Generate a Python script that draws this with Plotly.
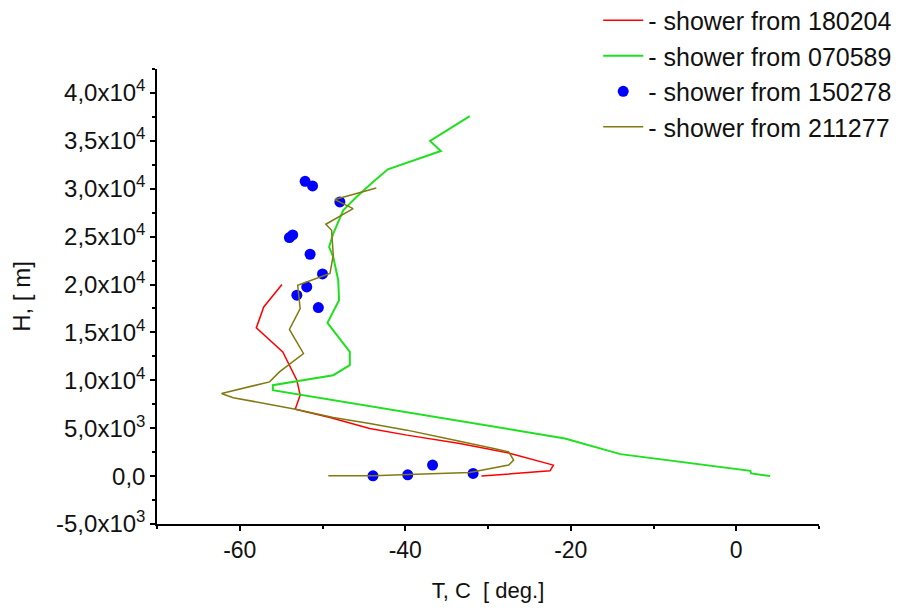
import plotly.graph_objects as go

# Temperature profiles (T in deg C, H in m)
t_180204 = [-30.8, -22.5, -22.1, -27.3, -33.4, -39.8, -44.3, -49.1, -53.3, -52.7, -53.1, -54.2, -54.8, -58.0, -57.1, -54.9]
h_180204 = [0, 553, 1148, 2368, 3412, 4278, 4977, 6124, 6990, 8451, 10016, 11925, 12968, 15472, 17663, 20000]

t_070589 = [4.1, 1.8, 1.7, -14.0, -20.7, -52.7, -56.0, -56.0, -48.7, -46.7, -46.7, -49.4, -48.0, -48.1, -48.7, -49.2, -48.7, -47.5, -45.9, -43.9, -42.1, -35.7, -37.0, -32.2]
h_070589 = [0, 282, 553, 2295, 3933, 8451, 8972, 9494, 10537, 11581, 12968, 15994, 18362, 20449, 22880, 23923, 25321, 27752, 29140, 30705, 32029, 33939, 34982, 37590]

t_150278 = [-52.1, -51.2, -47.9, -54.0, -53.6, -51.5, -50.0, -51.9, -53.1, -50.5, -43.9, -39.7, -36.7, -31.8]
h_150278 = [30777, 30288, 28618, 24904, 25175, 23161, 21106, 19750, 18884, 17600, 31, 136, 1148, 282]

t_211277 = [-49.3, -43.9, -39.6, -32.2, -27.5, -26.9, -27.5, -29.3, -35.0, -39.8, -44.3, -48.7, -53.1, -60.8, -62.2, -56.4, -55.2, -52.3, -54.0, -52.7, -53.0, -49.1, -48.7, -48.9, -49.6, -46.3, -48.5, -43.5]
h_211277 = [31, 31, 177, 386, 1148, 1669, 2535, 2890, 3933, 4799, 5498, 6124, 6959, 8190, 8628, 9838, 10881, 12802, 15306, 17496, 19927, 21148, 23057, 25665, 26291, 27929, 28868, 30079]

y_tickvals = [-5000, 0, 5000, 10000, 15000, 20000, 25000, 30000, 35000, 40000]
y_ticktext = ["-5,0x10<sup>3</sup>", "0,0", "5,0x10<sup>3</sup>", "1,0x10<sup>4</sup>", "1,5x10<sup>4</sup>",
              "2,0x10<sup>4</sup>", "2,5x10<sup>4</sup>", "3,0x10<sup>4</sup>", "3,5x10<sup>4</sup>", "4,0x10<sup>4</sup>"]
y_minor = [-2500, 2500, 7500, 12500, 17500, 22500, 27500, 32500, 37500, 42500]
x_tickvals = [-60, -40, -20, 0]
x_ticktext = ["-60", "-40", "-20", "0"]
x_minor = [-70, -50, -30, -10, 10]

FONT = "Liberation Sans, Arial, sans-serif"

fig = go.Figure()
fig.add_trace(go.Scatter(x=t_180204, y=h_180204, mode="lines", name="- shower from 180204",
                         line=dict(color="#ff0000", width=1.5), legendgroup="a"))
fig.add_trace(go.Scatter(x=t_070589, y=h_070589, mode="lines", name="- shower from 070589",
                         line=dict(color="#1fe01f", width=2), legendgroup="b"))
fig.add_trace(go.Scatter(x=t_150278, y=h_150278, mode="markers", name="- shower from 150278",
                         marker=dict(color="#0000ff", size=11), legendgroup="c"))
fig.add_trace(go.Scatter(x=t_211277, y=h_211277, mode="lines", name="- shower from 211277",
                         line=dict(color="#807a10", width=1.5), legendgroup="d"))

# page body has an 8px default margin: figure is sized/offset to compensate
fig.update_layout(
    width=891, height=604,
    margin=dict(l=149, r=80, t=61, b=88, autoexpand=False),
    paper_bgcolor="white", plot_bgcolor="white",
    font=dict(family=FONT, size=24, color="#111111"),
    showlegend=True,
    legend=dict(xref="container", yref="paper", x=0.998, xanchor="right", y=1.157, yanchor="top",
                font=dict(size=25), tracegroupgap=0, bgcolor="rgba(0,0,0,0)",
                itemwidth=40),
    xaxis=dict(range=[-70, 10], showgrid=False, zeroline=False, showline=True,
               linecolor="#000", linewidth=1.5, ticks="outside", ticklen=5, tickwidth=1.5,
               tickcolor="#000", tickmode="array", tickvals=x_tickvals, ticktext=x_ticktext,
               tickfont=dict(size=23),
               minor=dict(tickmode="array", tickvals=x_minor, ticks="outside", ticklen=3,
                          tickwidth=1.5, tickcolor="#000", showgrid=False),
               title=dict(text="T, C\u00a0 [ deg.]", font=dict(size=22), standoff=20)),
    yaxis=dict(range=[-5000, 42500], showgrid=False, zeroline=False, showline=True,
               linecolor="#000", linewidth=1.5, ticks="outside", ticklen=5, tickwidth=1.5,
               tickcolor="#000", tickmode="array", tickvals=y_tickvals, ticktext=y_ticktext,
               tickfont=dict(size=24),
               minor=dict(tickmode="array", tickvals=y_minor, ticks="outside", ticklen=3,
                          tickwidth=1.5, tickcolor="#000", showgrid=False),
               title=dict(text="H, [ m]", font=dict(size=24), standoff=20)),
)

fig.write_html("out.html")
